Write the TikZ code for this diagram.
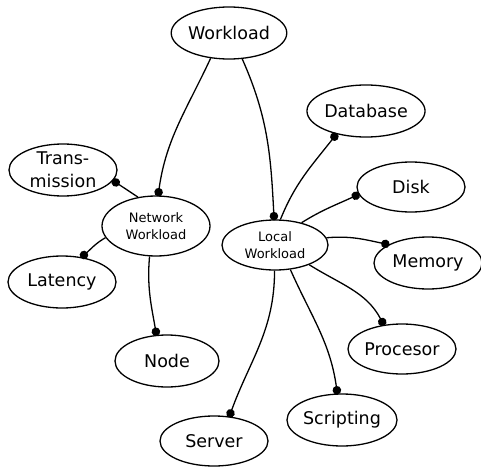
\documentclass[tikz,border=0pt]{standalone}
\usepackage{fontspec}
\setmainfont{DejaVu Sans}
\usetikzlibrary{shapes.geometric,arrows.meta}
\tikzset{
  topic/.style={ellipse, draw, line width=1.3pt, inner sep=0pt,
    minimum width=108pt, minimum height=52pt, align=center,
    font=\fontsize{17.5}{23}\selectfont},
  hub/.style={topic, font=\fontsize{13}{17}\selectfont},
  link/.style={line width=1.3pt, -{Circle[length=8.5pt]}, shorten >=-1pt}
}
\begin{document}
\begin{tikzpicture}[x=1pt,y=1pt]
\useasboundingbox (0,0) rectangle (481,-468);

% concept nodes
\node[topic] (wl) at (229,-33) {Workload};
\node[hub, minimum height=60pt] (nw) at (156,-226) {Network\\Workload};
\node[hub, minimum width=106pt, minimum height=50pt] (lw) at (275,-245) {Local\\Workload};

\node[topic] (db)   at (366,-111) {Database};
\node[topic] (tr)   at (63,-170)  {Trans-\\mission};
\node[topic, minimum height=50pt] (disk) at (411,-187) {Disk};
\node[topic] (mem)  at (428,-263) {Memory};
\node[topic] (lat)  at (62,-282)  {Latency};
\node[topic, minimum width=104pt] (nd) at (167,-361) {Node};
\node[topic, minimum height=50pt] (pr) at (402,-349) {Procesor};
\node[topic] (sc)   at (342,-420) {Scripting};
\node[topic, minimum height=50pt] (sv) at (214,-441) {Server};

% workload split
\draw[link] (wl.234) to[out=245, in=82] (nw.86);
\draw[link] (wl.297) to[out=-66, in=93] (lw.92);

% network branches
\draw[link] (nw.122) -- (tr.-12);
\draw[link] (nw.193) to[out=210, in=40] (lat.52);
\draw[link] (nw.258) to[out=265, in=100] (nd.112);

% local branches
\draw[link] (lw.78)  to[out=68, in=232] (db.218);
\draw[link] (lw.40)  to[out=32, in=205] (disk.188);
\draw[link] (lw.8)   to[out=5, in=168] (mem.155);
\draw[link] (lw.-30) to[out=-32, in=118] (pr.127);
\draw[link] (lw.-58) to[out=-66, in=98] (sc.100);
\draw[link] (lw.-91) to[out=-90, in=70] (sv.58);
\end{tikzpicture}
\end{document}
